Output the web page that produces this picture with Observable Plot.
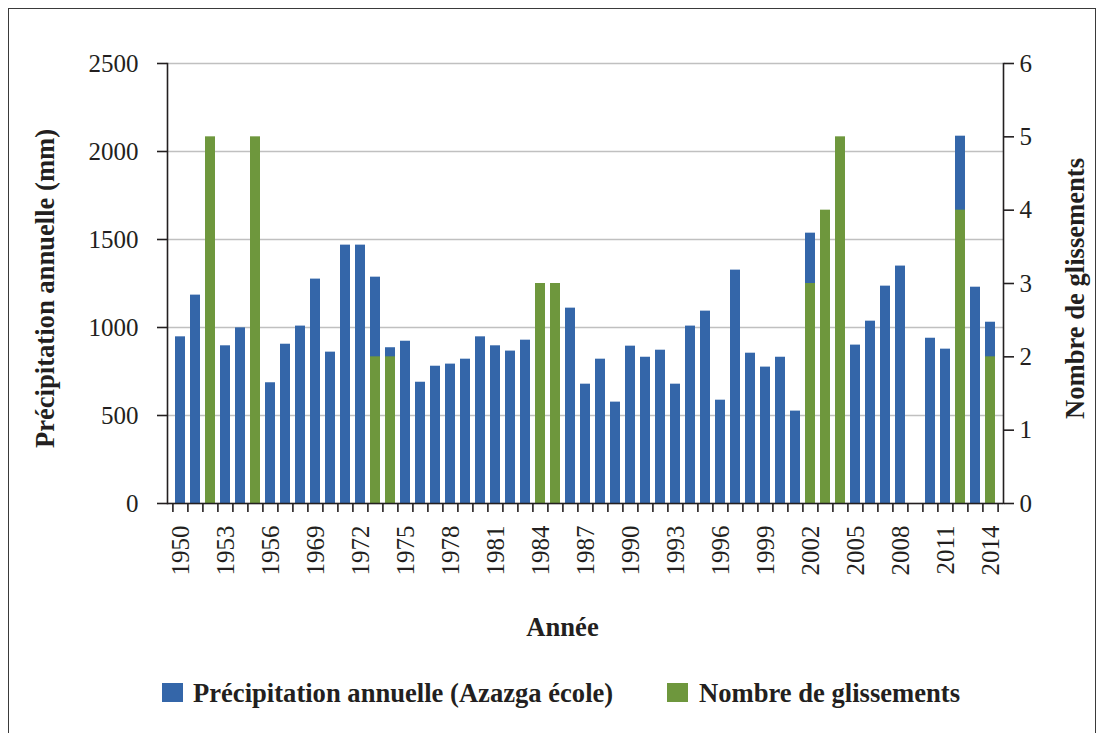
<!DOCTYPE html>
<html>
<head>
<meta charset="utf-8">
<script src="https://cdn.jsdelivr.net/npm/d3@7"></script>
<script src="https://cdn.jsdelivr.net/npm/@observablehq/plot@0.6"></script>
<style>
  html, body { margin: 0; padding: 0; background: #fff; width: 1106px; height: 733px; overflow: hidden; }
  #frame { position: absolute; left: 8px; top: 8px; width: 1088px; height: 760px; border: 1.5px solid #3a3a3a; box-sizing: border-box; }
  #chart { position: absolute; left: 0; top: 0; }
  .leg { position: absolute; font-family: "Liberation Serif", "Times New Roman", serif; font-weight: bold; font-size: 26.6px; line-height: 26px; color: #231f20; white-space: nowrap; }
  .sw { position: absolute; width: 21px; height: 19px; }
</style>
</head>
<body>
<div id="frame"></div>
<div id="chart"></div>
<div class="sw" style="left:162px; top:683px; background:#3466A9"></div>
<div class="leg" style="left:193px; top:680px">Précipitation annuelle (Azazga école)</div>
<div class="sw" style="left:667px; top:683px; background:#6E973D"></div>
<div class="leg" style="left:699px; top:680px">Nombre de glissements</div>
<script>
// Categories (years shown on the axis)
const years = ["1950","1951","1952","1953","1954","1955","1956","1967","1968","1969","1970",
  "1971","1972","1973","1974","1975","1976","1977","1978","1979","1980",
  "1981","1982","1983","1984","1985","1986","1987","1988","1989","1990",
  "1991","1992","1993","1994","1995","1996","1997","1998","1999","2000",
  "2001","2002","2003","2004","2005","2006","2007","2008","2009","2010",
  "2011","2012","2013","2014"];
// Annual precipitation (mm), Azazga école
const precip = [947,1184,null,896,998,null,686,905,1008,1275,860,
  1468,1468,1286,885,922,689,780,792,820,947,
  896,866,928,null,null,1110,678,820,576,894,
  831,871,678,1008,1093,587,1326,854,775,831,
  525,1536,null,null,900,1036,1235,1349,null,939,
  877,2087,1229,1030];
// Number of landslides
const slides = [null,null,5,null,null,5,null,null,null,null,null,
  null,null,2,2,null,null,null,null,null,null,
  null,null,null,3,3,null,null,null,null,null,
  null,null,null,null,null,null,null,null,null,null,
  null,3,4,5,null,null,null,null,null,null,
  null,4,null,2];
// Tick labels
const labelYears = ["1950","1953","1956","1969","1972","1975","1978","1981","1984","1987",
  "1990","1993","1996","1999","2002","2005","2008","2011","2014"];
const leftTicks = [0,500,1000,1500,2000,2500];
const rightTicks = [0,1,2,3,4,5,6];

const leftMax = 2500, rightMax = 6;
const toLeft = v => v * leftMax / rightMax;

const blue = "#3466A9", green = "#6E973D", ink = "#231f20";
const rows = years.map((y, i) => ({year: y, precip: precip[i], slides: slides[i]}));

const mL = 167, mR = 103, W = 1106;
const step = (W - mL - mR) / (years.length - 0.34 + 2 * 0.17);

const chart = Plot.plot({
  width: W, height: 660,
  marginLeft: mL, marginRight: mR, marginTop: 63, marginBottom: 157,
  style: {fontFamily: "'Liberation Serif', 'Times New Roman', serif", fontSize: "25px", color: ink, background: "none", overflow: "visible"},
  x: {type: "band", domain: years, paddingInner: 0.34, paddingOuter: 0.17, axis: null},
  y: {domain: [0, leftMax], axis: null},
  marks: [
    Plot.gridY(leftTicks, {stroke: "#c0c0c0", strokeOpacity: 1, strokeWidth: 1.4}),
    Plot.barY(rows, {x: "year", y: "precip", fill: blue}),
    Plot.barY(rows.filter(d => d.slides != null), {x: "year", y: d => toLeft(d.slides), fill: green}),
    Plot.ruleY([0], {stroke: ink, strokeWidth: 1.6}),
    Plot.frame({anchor: "left", stroke: ink, strokeWidth: 1.6}),
    Plot.frame({anchor: "right", stroke: ink, strokeWidth: 1.6}),
    Plot.axisY({ticks: leftTicks, anchor: "left", tickSize: 10, tickPadding: 19, stroke: ink, strokeWidth: 1.6, fontSize: 25, label: null,
      tickFormat: v => String(v)}),
    Plot.axisY({ticks: rightTicks.map(toLeft), anchor: "right", tickSize: 10, tickPadding: 6, stroke: ink, strokeWidth: 1.6, fontSize: 25, label: null,
      tickFormat: v => String(Math.round(v * rightMax / leftMax))}),
    Plot.axisX({ticks: years, tickSize: 9, tickFormat: () => "", dx: -step / 2, stroke: ink, strokeWidth: 1.6, label: null}),
    Plot.axisX({ticks: [years[years.length - 1]], tickSize: 9, tickFormat: () => "", dx: step / 2, stroke: ink, strokeWidth: 1.6, label: null}),
    Plot.axisX({ticks: labelYears, tickSize: 0, tickPadding: 22, tickRotate: -90, fontSize: 25, label: null}),
    Plot.text(["Précipitation annuelle (mm)"], {text: d => d, frameAnchor: "left", rotate: -90, dx: -122, dy: 5,
      textAnchor: "middle", lineAnchor: "middle", fontWeight: "bold", fontSize: 26.6, fill: ink}),
    Plot.text(["Nombre de glissements"], {text: d => d, frameAnchor: "right", rotate: -90, dx: 72, dy: 5,
      textAnchor: "middle", lineAnchor: "middle", fontWeight: "bold", fontSize: 26.6, fill: ink}),
    Plot.text(["Année"], {text: d => d, frameAnchor: "bottom", dx: -23, dy: 124,
      textAnchor: "middle", lineAnchor: "middle", fontWeight: "bold", fontSize: 26.6, fill: ink})
  ]
});
document.getElementById("chart").appendChild(chart);
</script>
</body>
</html>
